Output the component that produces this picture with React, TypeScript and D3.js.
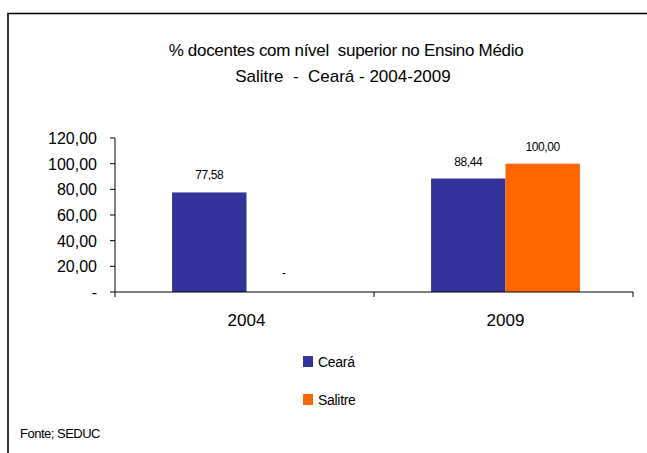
import React from "react";
import * as d3 from "d3";

const categories = ["2004", "2009"];
const seriesNames = ["Ceará", "Salitre"];
const cearaValues = [77.58, 88.44];
const salitreValues = [0, 100];
const yTicks = [0, 20, 40, 60, 80, 100, 120];
const titleLines = ["% docentes com nível  superior no Ensino Médio", "Salitre  -  Ceará - 2004-2009"];
const sourceText = "Fonte; SEDUC";
const colors = ["#333399", "#FF6600"];

const W = 647;
const H = 453;
const fmt = (v: number) => (v === 0 ? "-" : d3.format(",.2f")(v).replace(".", "#").replace(",", ".").replace("#", ","));

export default function App() {
  const x0 = d3.scaleBand<string>().domain(categories).range([115, 633]).padding(0);
  const x1 = d3.scaleBand<string>().domain(seriesNames).range([2, x0.bandwidth() + 2]).paddingInner(0).paddingOuter(0.74);
  const y = d3.scaleLinear().domain([0, 120]).range([292, 138]);
  const seriesValues = [cearaValues, salitreValues];
  const font = "'Liberation Sans', Arial, sans-serif";

  return (
    <svg width={W} height={H} style={{ position: "absolute", left: 0, top: 0, fontFamily: font }}>
      <rect x={0} y={0} width={W} height={H} fill="#fff" />
      <polyline points={`8,${H} 8,13.5 ${W},13.5`} fill="none" stroke="#000" strokeWidth={1.6} />
      <text x={346} y={56} textAnchor="middle" fontSize={17} letterSpacing={-0.3} style={{ whiteSpace: "pre" }} fill="#000">
        {titleLines[0]}
      </text>
      <text x={343} y={82} textAnchor="middle" fontSize={17} style={{ whiteSpace: "pre" }} fill="#000">
        {titleLines[1]}
      </text>

      {/* y axis */}
      <line x1={115} x2={115} y1={y(120)} y2={y(0)} stroke="#000" strokeWidth={1} />
      {yTicks.map((t) => (
        <g key={t}>
          <line x1={110} x2={115} y1={y(t)} y2={y(t)} stroke="#000" strokeWidth={1} />
          <text x={97} y={y(t) + 6} textAnchor="end" fontSize={16} fill="#000">
            {fmt(t)}
          </text>
        </g>
      ))}

      {/* bars */}
      {categories.map((c, i) => (
        <g key={c}>
          {seriesNames.map((s, j) => {
            const v = seriesValues[j][i];
            const bx = (x0(c) as number) + (x1(s) as number);
            const bw = x1.bandwidth();
            return (
              <g key={s}>
                {v > 0 && <rect x={bx} y={y(v)} width={bw} height={y(0) - y(v)} fill={colors[j]} />}
                <text x={bx + bw / 2} y={y(v) - (v === 0 ? 15 : 13)} textAnchor="middle" fontSize={12} letterSpacing={-0.4} fill="#000">
                  {fmt(v)}
                </text>
              </g>
            );
          })}
        </g>
      ))}

      {/* x axis */}
      <line x1={115} x2={633} y1={y(0)} y2={y(0)} stroke="#000" strokeWidth={1} />
      {[...categories.map((c) => x0(c) as number), 633].map((t, i) => (
        <line key={i} x1={t} x2={t} y1={y(0)} y2={y(0) + 5} stroke="#000" strokeWidth={1} />
      ))}
      {categories.map((c) => (
        <text key={c} x={(x0(c) as number) + x0.bandwidth() / 2 + 2} y={326} textAnchor="middle" fontSize={17} fill="#000">
          {c}
        </text>
      ))}

      {/* legend */}
      {seriesNames.map((s, j) => (
        <g key={s} transform={`translate(303, ${362 + j * 38})`}>
          <rect x={0} y={-6} width={10} height={11} fill={colors[j]} />
          <text x={15} y={5} fontSize={14} letterSpacing={-0.3} fill="#000">
            {s}
          </text>
        </g>
      ))}

      <text x={20} y={438} fontSize={13} letterSpacing={-0.5} fill="#000">
        {sourceText}
      </text>
    </svg>
  );
}
